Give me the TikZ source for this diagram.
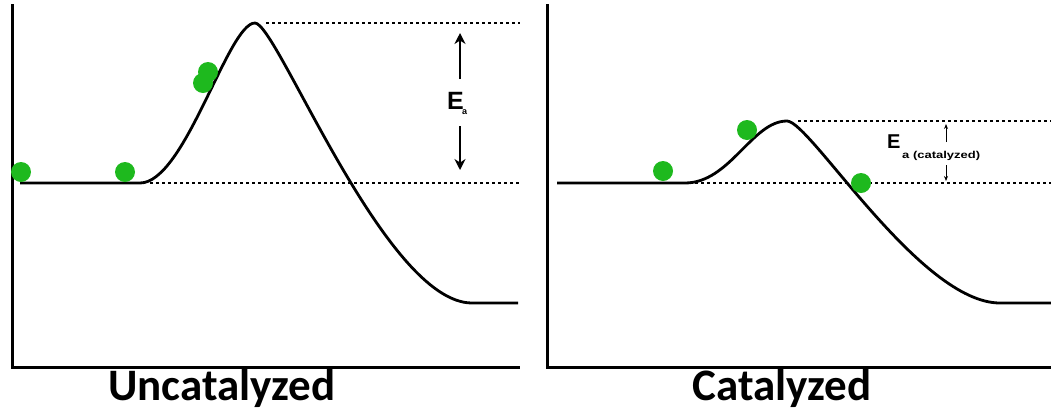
\documentclass[tikz,border=0pt]{standalone}
\usepackage{fontspec}
\setmainfont{Liberation Sans}
\newfontfamily\titlefont{Carlito}
\usetikzlibrary{arrows.meta}
\definecolor{dotgreen}{RGB}{30,185,30}
\tikzset{
  axisline/.style={line width=3pt, line cap=rect},
  curveline/.style={line width=2.8pt},
  dotline/.style={line width=2.6pt, dash pattern=on 2.6pt off 3.4pt},
  ball/.style={circle, fill=dotgreen, inner sep=0pt, minimum size=20pt},
  bigarrow/.style={line width=2pt, -{Stealth[length=11pt,width=11pt]}},
  smallarrow/.style={line width=0.9pt, -{Stealth[length=5pt,width=4pt]}},
  title/.style={font=\titlefont\bfseries\fontsize{45}{48}\selectfont, inner sep=0pt},
}
\begin{document}
\begin{tikzpicture}[x=1pt,y=-1pt]
\useasboundingbox (0,0) rectangle (1051,413);
% left axes
\draw[axisline] (12,5) -- (12,367) -- (518,367);
% right axes
\draw[axisline] (547,5) -- (547,367) -- (1051,367);
% left dotted lines
\draw[dotline] (266,23) -- (520,23);
\draw[dotline] (150,183) -- (520,183);
% right dotted lines
\draw[dotline] (798,121) -- (1051,121);
\draw[dotline] (695,183) -- (1051,183);
% left curve
\draw[curveline] (20,183) -- (140,183) .. controls (185,183) and (228,23) .. (255,23)
  .. controls (277,23) and (385,303) .. (472,303) -- (518,303);
% right curve
\draw[curveline] (557,183) -- (685,183) .. controls (730,183) and (752,121) .. (787,121)
  .. controls (810,121) and (920,303) .. (1000,303) -- (1051,303);
% green balls
\node[ball] (b1) at (21,172) {};
\node[ball] (b2) at (125,172) {};
\node[ball] (b3) at (203,83) {};
\node[ball] (b3b) at (208,72) {};
\node[ball] (c1) at (663,171) {};
\node[ball] (c2) at (747,130) {};
\node[ball] (c3) at (861,183) {};
% Ea left
\node[font=\bfseries\fontsize{25}{25}\selectfont, inner sep=0pt, anchor=base west] (ea) at (447,109) {E};
\node[font=\bfseries\fontsize{9}{9}\selectfont, inner sep=0pt, anchor=base west] (eas) at (462,114) {a};
\coordinate (ua) at (460,79);
\coordinate (ut) at (460,33);
\coordinate (da) at (460,126);
\coordinate (dt) at (460,170);
\draw[bigarrow] (ua) -- (ut);
\draw[bigarrow] (da) -- (dt);
% Ea right
\node[font=\bfseries\fontsize{20}{20}\selectfont, inner sep=0pt, anchor=base west] (eb) at (887,148) {E};
\node[font=\bfseries\fontsize{10}{10}\selectfont, inner sep=0pt, anchor=base west] (ebs) at (902,158) {\scalebox{1.3}[1]{a (catalyzed)}};
\coordinate (ub) at (946,142);
\coordinate (ubt) at (946,124);
\coordinate (db) at (946,165);
\coordinate (dbt) at (946,181);
\draw[smallarrow] (ub) -- (ubt);
\draw[smallarrow] (db) -- (dbt);
% titles
\node[title] (t1) at (222,388) {Uncatalyzed};
\node[title] (t2) at (782,388) {Catalyzed};
\end{tikzpicture}
\end{document}
